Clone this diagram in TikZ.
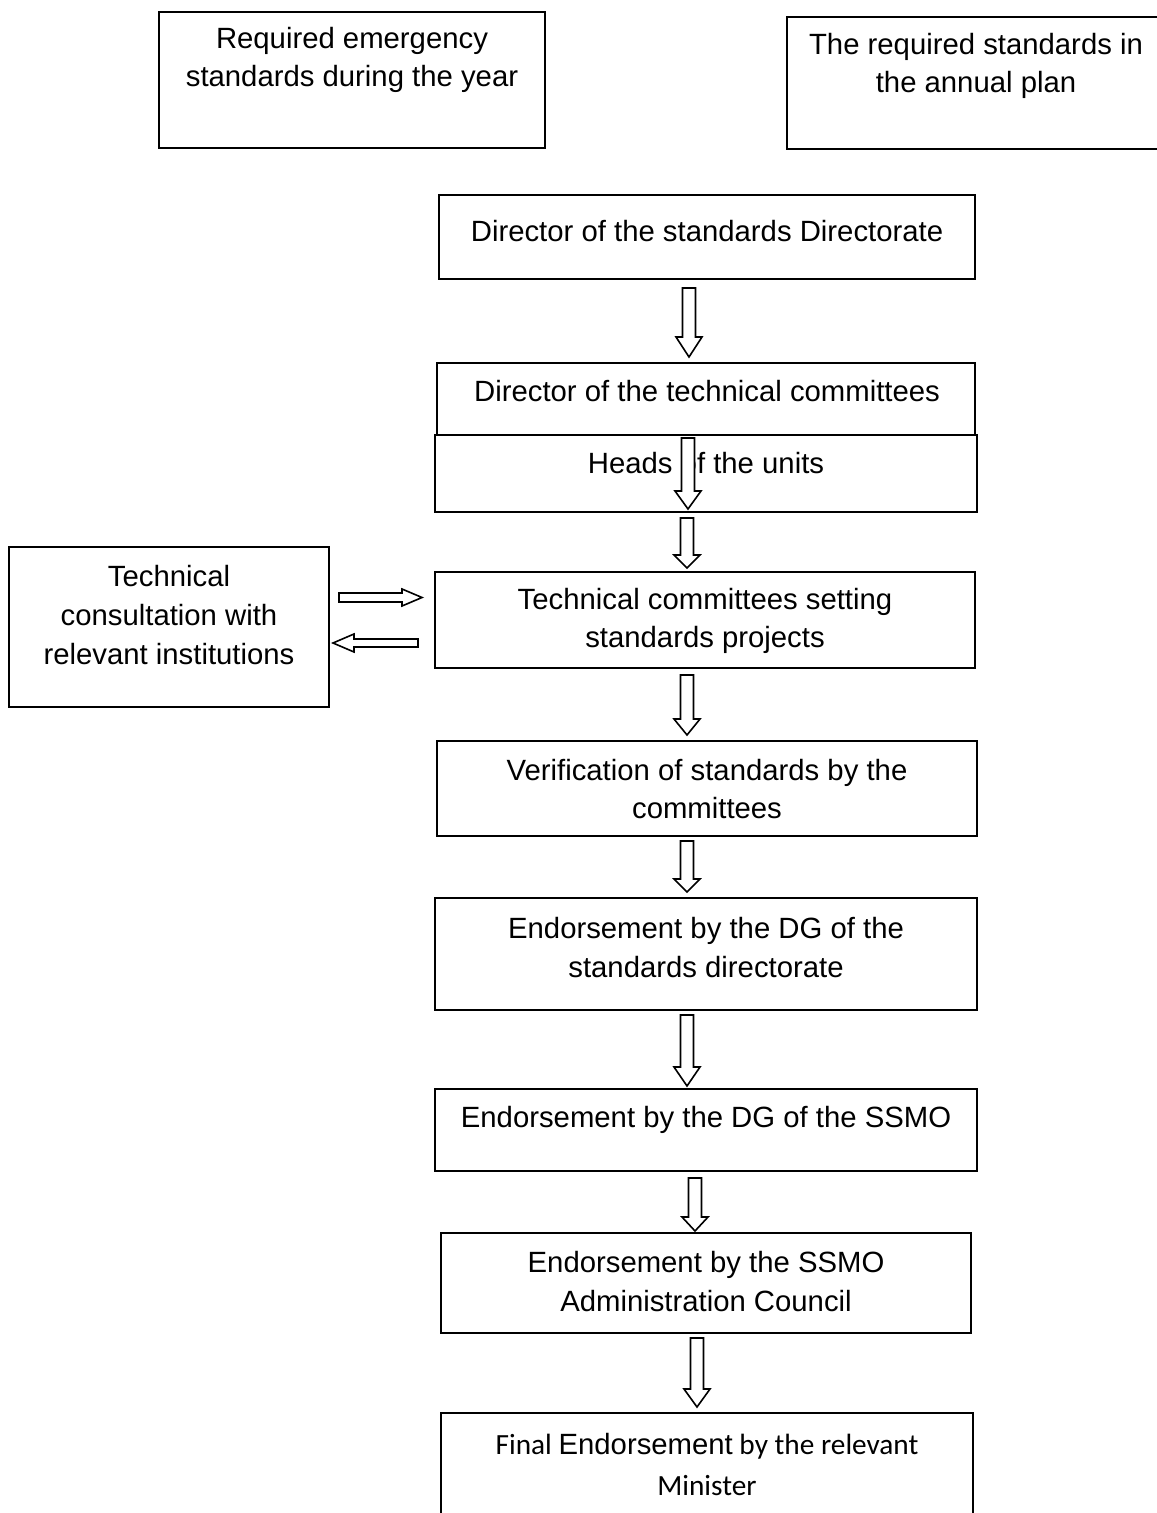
\documentclass[tikz,border=0pt]{standalone}
\usepackage{fontspec}
\setmainfont{Liberation Sans}
\newfontfamily\calfont{Carlito}
\usetikzlibrary{calc}
\tikzset{
  box/.style={draw, line width=1pt, inner sep=0pt},
  txt/.style={align=center, inner sep=0pt, font=\fontsize{14.65}{19.3}\selectfont},
  barrow/.style={draw, line width=0.8pt, fill=white, line join=miter},
}
% vertical block arrow: x(px), top coord, tip coord, head length px
\newcommand\vblk[4]{%
  \draw[barrow] let \p1=(#2), \p2=(#3), \p3=(#1,0) in
   ({\x3-3.25pt},\y1) -- ({\x3+3.25pt},\y1) -- ({\x3+3.25pt},{\y2+#4*0.5pt})
   -- ({\x3+6.5pt},{\y2+#4*0.5pt}) -- (\x3,\y2) -- ({\x3-6.5pt},{\y2+#4*0.5pt})
   -- ({\x3-3.25pt},{\y2+#4*0.5pt}) -- cycle;}
% horizontal block arrow: y(px), tail coord, tip coord, signed head length px, shaft half px, head half px
\newcommand\hblk[6]{%
  \draw[barrow] let \p1=(#2), \p2=(#3), \p3=(0,#1) in
   (\x1,{\y3+#5*0.5pt}) -- ({\x2+#4*0.5pt},{\y3+#5*0.5pt}) -- ({\x2+#4*0.5pt},{\y3+#6*0.5pt})
   -- (\x2,\y3) -- ({\x2+#4*0.5pt},{\y3-#6*0.5pt}) -- ({\x2+#4*0.5pt},{\y3-#5*0.5pt})
   -- (\x1,{\y3-#5*0.5pt}) -- cycle;}
\begin{document}
\begin{tikzpicture}[x=0.5pt,y=-0.5pt]
\fill[white] (0,0) rectangle (1156,1513);
\useasboundingbox (0,0) rectangle (1156,1513);

% boxes
\node[box, minimum width=193pt, minimum height=68pt] (emg) at (352,80) {};
\node[box, minimum width=207pt, minimum height=66pt] (plan) at (994,83) {};
\node[box, minimum width=268pt, minimum height=42pt] (dstd) at (707,237) {};
\node[box, minimum width=269pt, minimum height=36pt] (dtc) at (706,399) {};
\node[box, minimum width=271pt, minimum height=38.5pt] (heads) at (706,473.5) {};
\node[box, minimum width=160pt, minimum height=80pt] (cons) at (169,627) {};
\node[box, minimum width=270pt, minimum height=48pt] (tcs) at (705,620) {};
\node[box, minimum width=270pt, minimum height=47.5pt] (ver) at (707,788.5) {};
\node[box, minimum width=271pt, minimum height=56pt] (edgs) at (706,954) {};
\node[box, minimum width=271pt, minimum height=41pt] (essmo) at (706,1130) {};
\node[box, minimum width=265pt, minimum height=50pt] (eadm) at (706,1283) {};
\node[box, minimum width=266pt, minimum height=58.5pt] (fin) at (707,1471.5) {};

% texts
\node[txt] (temg) at (352,60) {Required emergency\\standards during the year};
\node[txt] (tplan) at (976,66) {The required standards in\\the annual plan};
\node[txt] (tdstd) at (707,231) {Director of the standards Directorate};
\node[txt] (tdtc) at (707,391) {Director of the technical committees};
\node[txt] (theads) at (706,463) {Heads of the units};
\node[txt] (tcons) at (169,615) {Technical\\consultation with\\relevant institutions};
\node[txt] (ttcs) at (705,621) {Technical committees setting\\standards projects};
\node[txt] (tver) at (707,789) {Verification of standards by the\\committees};
\node[txt] (tedgs) at (706,947.5) {Endorsement by the DG of the\\standards directorate};
\node[txt] (tessmo) at (706,1120) {Endorsement by the DG of the SSMO};
\node[txt] (teadm) at (706,1281.5) {Endorsement by the SSMO\\Administration Council};
\node[txt, font=\fontsize{14.65}{20.5}\selectfont] (tfin) at (707,1464)
  {{\calfont Final }Endorsement{\calfont\ by the relevant}\\{\calfont Minister}};

% vertical block arrows
\vblk{689}{$(dstd.south)+(0,8)$}{$(dtc.north)+(0,-5)$}{20}
\vblk{688}{$(dtc.south)+(0,2)$}{$(heads.south)+(0,-4)$}{18}
\vblk{687}{$(heads.south)+(0,5)$}{$(tcs.north)+(0,-3)$}{13}
\vblk{687}{$(tcs.south)+(0,6)$}{$(ver.north)+(0,-5)$}{16}
\vblk{687}{$(ver.south)+(0,4)$}{$(edgs.north)+(0,-5)$}{13}
\vblk{687}{$(edgs.south)+(0,4)$}{$(essmo.north)+(0,-2)$}{19}
\vblk{695}{$(essmo.south)+(0,6)$}{$(eadm.north)+(0,-1)$}{14}
\vblk{697}{$(eadm.south)+(0,4)$}{$(fin.north)+(0,-5)$}{18}

% horizontal block arrows
\hblk{597.5}{$(cons.east)+(9,0)$}{$(tcs.west)+(-12,0)$}{-20}{4.5}{8.5}
\hblk{643}{$(tcs.west)+(-16,0)$}{$(cons.east)+(3,0)$}{21}{4}{9}
\end{tikzpicture}
\end{document}
